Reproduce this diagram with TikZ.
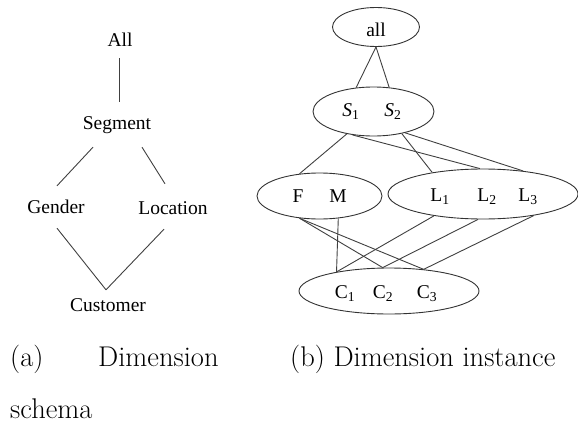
\documentclass[tikz,border=0pt]{standalone}
\usepackage{fontspec}
\usepackage{tikz}
\usetikzlibrary{shapes.geometric}
\newfontfamily\labelfont{Liberation Serif}

\begin{document}
\begin{tikzpicture}[
    x=1pt, y=-1pt,
    lbl/.style={font=\labelfont\fontsize{19.5}{22}\selectfont, inner sep=0pt, text height=12.5pt, text depth=0pt},
    valset/.style={ellipse, draw=black!80, line width=0.9pt, inner sep=0pt},
    link/.style={draw=black!75, line width=0.9pt},
    caption/.style={font=\fontsize{28.5}{34}\selectfont, inner sep=0pt, anchor=base west}
]
\useasboundingbox (0,0) rectangle (578,423);

% (a) schema
\node[lbl] (all) at (120,40) {All};
\node[lbl] (seg) at (117,123) {Segment};
\node[lbl] (gender) at (56,207) {Gender};
\node[lbl] (loc) at (173,208) {Location};
\node[lbl] (cust) at (108,305) {Customer};

\draw[link] ([xshift=-1pt,yshift=-11.75pt]all.south) -- ([xshift=2pt,yshift=14.75pt]seg.north);
\draw[link] ([xshift=-24pt,yshift=-17.75pt]seg.south) -- ([xshift=1pt,yshift=14.75pt]gender.north);
\draw[link] ([xshift=25pt,yshift=-17.75pt]seg.south) -- ([xshift=-8pt,yshift=17.75pt]loc.north);
\draw[link] ([xshift=1pt,yshift=-14.75pt]gender.south) -- ([xshift=-2pt,yshift=8.75pt]cust.north);
\draw[link] ([xshift=-9pt,yshift=-14.75pt]loc.south) -- ([xshift=-2pt,yshift=8.75pt]cust.north);

% (b) instance
\node[valset, minimum width=87pt, minimum height=39pt] (allset) at (376,27) {};
\node[valset, minimum width=121pt, minimum height=49pt] (segset) at (373.5,111.5) {};
\node[valset, minimum width=125pt, minimum height=46pt] (genset) at (319.5,196) {};
\node[valset, minimum width=190pt, minimum height=50pt] (locset) at (483,194) {};
\node[valset, minimum width=180pt, minimum height=46pt] (custset) at (389,291) {};

\node[lbl] (alltext) at (376,30) {all};
\node[lbl] (s1) at (351,110) {\textit{S}\textsubscript{1}};
\node[lbl] (s2) at (393,110) {\textit{S}\textsubscript{2}};
\node[lbl] (f) at (298,196) {F};
\node[lbl] (m) at (338,196) {M};
\node[lbl] (l1) at (440,195) {L\textsubscript{1}};
\node[lbl] (l2) at (487,195) {L\textsubscript{2}};
\node[lbl] (l3) at (528,195) {L\textsubscript{3}};
\node[lbl] (c1) at (345,292) {C\textsubscript{1}};
\node[lbl] (c2) at (383,292) {C\textsubscript{2}};
\node[lbl] (c3) at (427,292) {C\textsubscript{3}};

\draw[link] (allset.south) -- (segset.126);
\draw[link] (allset.south) -- (segset.57);
\draw[link] (segset.220) -- (genset.132);
\draw[link] (segset.228) -- (locset.97);
\draw[link] (segset.322) -- (locset.157);
\draw[link] (segset.326) -- (locset.30);
\draw[link] (genset.228) -- (custset.105);
\draw[link] (genset.228) -- (custset.32);
\draw[link] (genset.310) -- (custset.160);
\draw[link] (locset.204) -- (custset.160);
\draw[link] (locset.259) -- (custset.105);
\draw[link] (locset.337) -- (custset.32);

% captions
\node[caption] (capa) at (10,366) {(a)};
\node[caption] (capadim) at (98,366) {Dimension};
\node[caption] (capaschema) at (10,418) {schema};
\node[caption] (capb) at (290,366) {(b) Dimension instance};
\end{tikzpicture}
\end{document}
